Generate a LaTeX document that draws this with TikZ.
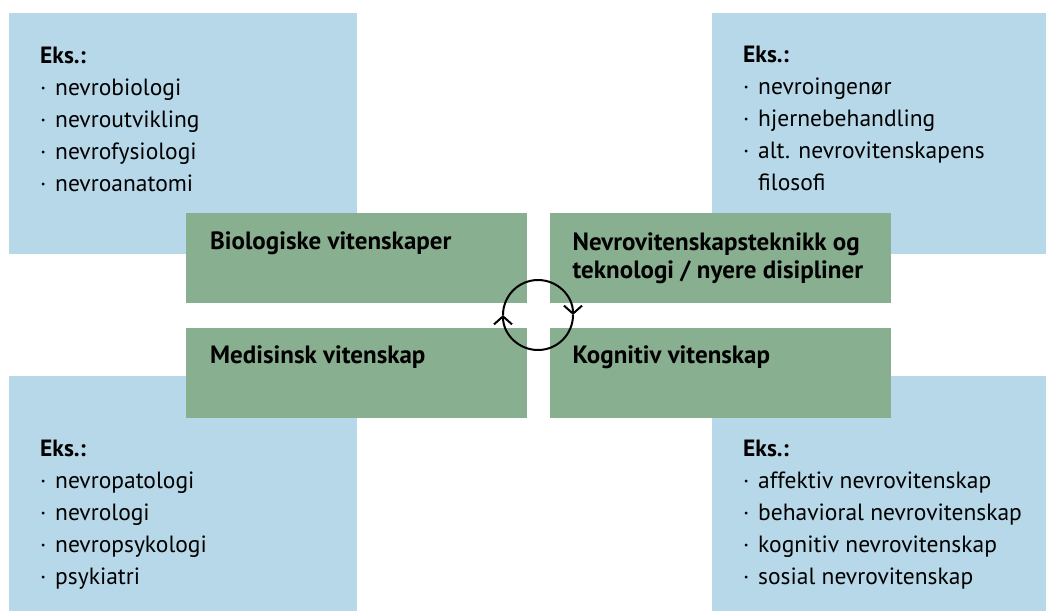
\documentclass[tikz,border=0pt]{standalone}
\usepackage{fontspec}
\setmainfont{PT Sans}
\usetikzlibrary{positioning, arrows.meta}

\definecolor{eksblue}{RGB}{183,216,232}
\definecolor{fagsgreen}{RGB}{136,176,144}
\newcommand{\pkt}{\makebox[15pt][l]{·}}

\begin{document}
\begin{tikzpicture}
[
	x=1pt, y=1pt,
	node distance={22pt},
	bluebox/.style = {fill=eksblue, anchor=north west, minimum width=348pt, minimum height=241pt, inner sep=0pt},
	greenbox/.style = {fill=fagsgreen, anchor=north west, minimum width=341pt, minimum height=90pt, inner sep=0pt},
	list/.style = {anchor=base west, align=left, inner sep=0pt, font=\fontsize{23.5}{32}\selectfont},
	title/.style = {anchor=base west, align=left, inner sep=0pt, font=\bfseries\fontsize{25}{28}\selectfont},
	turn/.style = {line width=2pt, -{Straight Barb[length=8pt, width=18pt]}}
]
\useasboundingbox (0,0) rectangle (1046,-611);

% eksempler (base = siste linje)
\node[bluebox] (ex1) at (9,-13) {};
\node[bluebox, minimum width=334pt] (ex2) at (712,-13) {};
\node[bluebox, minimum height=235pt] (ex3) at (9,-376) {};
\node[bluebox, minimum width=334pt, minimum height=235pt] (ex4) at (712,-376) {};

\node[list] (l1) at ([xshift=31pt, yshift=-178pt]ex1.north west)
	{\textbf{Eks.:}\\ \pkt nevrobiologi\\ \pkt nevroutvikling\\ \pkt nevrofysiologi\\ \pkt nevroanatomi};
\node[list] (l2) at ([xshift=31pt, yshift=-177pt]ex2.north west)
	{\textbf{Eks.:}\\ \pkt nevroingenør\\ \pkt hjernebehandling\\ \pkt alt. nevrovitenskapens\\ \hspace*{15pt}filosofi};
\node[list] (l3) at ([xshift=31pt, yshift=-208pt]ex3.north west)
	{\textbf{Eks.:}\\ \pkt nevropatologi\\ \pkt nevrologi\\ \pkt nevropsykologi\\ \pkt psykiatri};
\node[list] (l4) at ([xshift=31pt, yshift=-208pt]ex4.north west)
	{\textbf{Eks.:}\\ \pkt affektiv nevrovitenskap\\ \pkt behavioral nevrovitenskap\\ \pkt kognitiv nevrovitenskap\\ \pkt sosial nevrovitenskap};

% fagfelt
\node[greenbox] (bio) at (186,-213) {};
\node[greenbox, right=22pt of bio] (tek) {};
\node[greenbox, below=24pt of bio] (med) {};
\node[greenbox, right=22pt of med] (kog) {};

\node[title] (t1) at ([xshift=24pt, yshift=-36pt]bio.north west) {Biologiske vitenskaper};
\node[title] (t2) at ([xshift=23pt, yshift=-65pt]tek.north west) {Nevrovitenskapsteknikk og\\ teknologi / nyere disipliner};
\node[title] (t3) at ([xshift=24pt, yshift=-36pt]med.north west) {Medisinsk vitenskap};
\node[title] (t4) at ([xshift=23pt, yshift=-36pt]kog.north west) {Kognitiv vitenskap};

% sirkel
\coordinate (mid) at (538,-315);
\draw[turn] ([xshift=35pt]mid) arc (0:-180:35pt);
\draw[turn] ([xshift=-35pt]mid) arc (180:0:35pt);
\end{tikzpicture}
\end{document}
